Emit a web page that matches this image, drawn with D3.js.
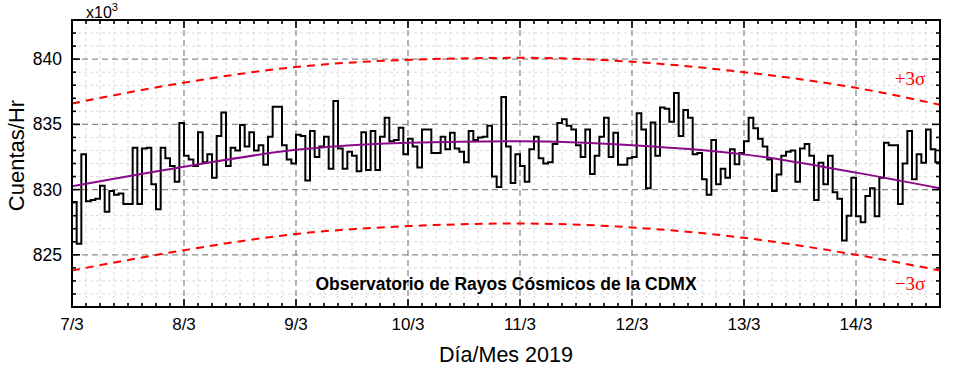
<!DOCTYPE html>
<html>
<head>
<meta charset="utf-8">
<script src="https://cdn.jsdelivr.net/npm/d3@7"></script>
<style>
  body { margin: 0; background: #fff; }
  svg { display: block; font-family: "Liberation Sans", Arial, sans-serif; }
</style>
</head>
<body>
<div id="chart"></div>
<script>
// hourly counts (x10^3), one array per day starting at 00:00
const day7  = [829.05, 825.85, 832.7, 829.1, 829.2, 829.3, 830.3, 828.3, 829.9, 829.6, 829.7, 828.9,
               828.9, 833.2, 828.9, 833.15, 833.2, 830.4, 828.5, 833.2, 832.4, 831.8, 830.6, 835.1];
const day8  = [832.6, 832.3, 831.8, 834.4, 832.1, 832.7, 830.9, 834.1, 835.9, 831.8, 833.2, 833.0,
               834.95, 833.3, 834.4, 833.0, 833.4, 831.9, 834.05, 836.35, 836.35, 833.4, 832.3, 832.0];
const day9  = [834.2, 834.1, 830.7, 834.5, 832.5, 833.3, 834.05, 831.6, 836.8, 833.15, 831.6, 832.9,
               832.6, 831.4, 834.4, 831.5, 834.5, 831.5, 834.05, 835.5, 833.7, 833.8, 834.75, 832.7];
const day10 = [833.9, 833.3, 831.7, 834.6, 834.6, 832.8, 832.8, 834.05, 833.1, 834.35, 833.15, 832.9,
               832.1, 834.5, 833.8, 834.0, 834.05, 834.9, 831.0, 830.2, 837.1, 833.3, 830.5, 832.7];
const day11 = [831.8, 830.6, 833.1, 834.05, 832.4, 832.0, 832.1, 833.5, 835.1, 835.4, 834.9, 834.6,
               833.4, 832.5, 834.6, 831.2, 832.6, 834.05, 835.5, 832.5, 834.35, 831.9, 831.9, 832.4];
const day12 = [832.5, 835.85, 834.6, 830.1, 835.15, 832.6, 836.3, 836.2, 835.2, 837.4, 834.1, 836.1,
               835.5, 832.7, 832.8, 830.8, 829.6, 833.8, 830.4, 831.6, 830.9, 833.1, 831.95, 832.8];
const day13 = [833.7, 835.5, 834.7, 833.9, 833.3, 832.3, 829.9, 831.15, 832.6, 832.9, 833.0, 830.6,
               833.15, 833.5, 832.6, 829.2, 832.05, 830.4, 832.6, 829.8, 829.3, 826.1, 828.0, 830.9];
const day14 = [827.95, 827.5, 829.5, 830.1, 827.95, 830.9, 833.6, 833.4, 833.4, 828.9, 832.0, 834.5,
               830.8, 832.7, 832.05, 834.6, 833.1, 832.1];

// fitted daily trend and +/-3 sigma limits, read at each day mark
const trendDays = [7, 8, 9, 10, 11, 12, 13, 14, 14.75];
const trendFit  = [830.25, 831.75, 833.05, 833.6, 833.7, 833.4, 832.7, 831.3, 830.1];
const upper3s   = [836.6, 838.2, 839.4, 839.95, 840.1, 839.8, 839.0, 837.8, 836.5];
const lower3s   = [823.8, 825.35, 826.6, 827.2, 827.4, 827.1, 826.3, 825.0, 823.8];

const xTicks = [7, 8, 9, 10, 11, 12, 13, 14];
const xTickLabels = ["7/3", "8/3", "9/3", "10/3", "11/3", "12/3", "13/3", "14/3"];
const yTicks = [825, 830, 835, 840];

const W = 957, H = 372;
const m = { left: 72, right: 17, top: 20, bottom: 65 };
const pw = W - m.left - m.right, ph = H - m.top - m.bottom;

const x = d3.scaleLinear().domain([7, 14.75]).range([0, pw]);
const y = d3.scaleLinear().domain([821, 843]).range([ph, 0]);

const svg = d3.select("#chart").append("svg")
  .attr("width", W).attr("height", H);

svg.append("defs").append("clipPath").attr("id", "clip")
  .append("rect").attr("width", pw).attr("height", ph);

const g = svg.append("g").attr("transform", `translate(${m.left},${m.top})`);

// minor grid
const xMinor = d3.range(7, 14.75 + 1e-9, 1 / 8);
const yMinor = d3.range(822, 843.5, 1);
g.append("g").selectAll("line").data(xMinor.filter(d => !xTicks.includes(d))).join("line")
  .attr("x1", d => x(d)).attr("x2", d => x(d)).attr("y1", 0).attr("y2", ph)
  .attr("stroke", "#dadada").attr("stroke-dasharray", "3,3");
g.append("g").selectAll("line").data(yMinor.filter(d => !yTicks.includes(d))).join("line")
  .attr("y1", d => y(d)).attr("y2", d => y(d)).attr("x1", 0).attr("x2", pw)
  .attr("stroke", "#dadada").attr("stroke-dasharray", "3,3");

// major grid
g.append("g").selectAll("line").data(xTicks.slice(1)).join("line")
  .attr("x1", d => x(d)).attr("x2", d => x(d)).attr("y1", 0).attr("y2", ph)
  .attr("stroke", "#8c8c8c").attr("stroke-width", 1.3).attr("stroke-dasharray", "6,4");
g.append("g").selectAll("line").data(yTicks).join("line")
  .attr("y1", d => y(d)).attr("y2", d => y(d)).attr("x1", 0).attr("x2", pw)
  .attr("stroke", "#8c8c8c").attr("stroke-width", 1.3).attr("stroke-dasharray", "6,4");

const plot = g.append("g").attr("clip-path", "url(#clip)");

// sigma limits
const smooth = d3.line().x(d => x(d[0])).y(d => y(d[1])).curve(d3.curveMonotoneX);
[upper3s, lower3s].forEach(arr => {
  plot.append("path")
    .datum(trendDays.map((d, i) => [d, arr[i]]))
    .attr("d", smooth)
    .attr("fill", "none").attr("stroke", "#ff0000").attr("stroke-width", 2)
    .attr("stroke-dasharray", "8,6");
});

// hourly steps
const counts = [].concat(day7, day8, day9, day10, day11, day12, day13, day14);
const pts = counts.map((v, i) => [7 + i / 24, v]);
pts.push([7 + counts.length / 24, counts[counts.length - 1]]);
plot.append("path").datum(pts)
  .attr("d", d3.line().x(d => x(d[0])).y(d => y(d[1])).curve(d3.curveStepAfter))
  .attr("fill", "none").attr("stroke", "#000").attr("stroke-width", 2)
  .attr("stroke-linejoin", "miter");

// fitted trend
plot.append("path")
  .datum(trendDays.map((d, i) => [d, trendFit[i]]))
  .attr("d", smooth)
  .attr("fill", "none").attr("stroke", "#8b0a8b").attr("stroke-width", 2);

// axes with inward ticks on all four sides
function ticks(sel, scale, vals, len, orient) {
  sel.selectAll(null).data(vals).join("line")
    .attr("stroke", "#000").attr("stroke-width", 1.6)
    .each(function (d) {
      const s = d3.select(this), p = scale(d);
      if (orient === "bottom") s.attr("x1", p).attr("x2", p).attr("y1", ph).attr("y2", ph - len);
      if (orient === "top") s.attr("x1", p).attr("x2", p).attr("y1", 0).attr("y2", len);
      if (orient === "left") s.attr("y1", p).attr("y2", p).attr("x1", 0).attr("x2", len);
      if (orient === "right") s.attr("y1", p).attr("y2", p).attr("x1", pw).attr("x2", pw - len);
    });
}
const tk = g.append("g");
["bottom", "top"].forEach(o => {
  ticks(tk, x, xMinor.filter(d => !xTicks.includes(d)), 4, o);
  ticks(tk, x, xTicks, 8, o);
});
["left", "right"].forEach(o => {
  ticks(tk, y, yMinor.filter(d => !yTicks.includes(d)), 4, o);
  ticks(tk, y, yTicks, 8, o);
});

g.append("rect").attr("width", pw).attr("height", ph)
  .attr("fill", "none").attr("stroke", "#000").attr("stroke-width", 2);

// tick labels
g.append("g").selectAll("text").data(xTicks).join("text")
  .attr("x", d => x(d)).attr("y", ph + 23)
  .attr("text-anchor", "middle").attr("font-size", 17)
  .text((d, i) => xTickLabels[i]);
g.append("g").selectAll("text").data(yTicks).join("text")
  .attr("x", -10).attr("y", d => y(d)).attr("dy", "0.35em")
  .attr("text-anchor", "end").attr("font-size", 17.5)
  .text(d => d);

// multiplier
const mult = svg.append("text").attr("x", 86).attr("y", 18).attr("font-size", 16);
mult.append("tspan").text("x10");
mult.append("tspan").attr("font-size", 11).attr("dy", -7).text("3");

// axis titles
svg.append("text")
  .attr("transform", `translate(24,${m.top + ph / 2 - 8}) rotate(-90)`)
  .attr("text-anchor", "middle").attr("font-size", 22)
  .text("Cuentas/Hr");
svg.append("text")
  .attr("x", 506).attr("y", 362)
  .attr("text-anchor", "middle").attr("font-size", 21.5)
  .text("Día/Mes 2019");

// annotations
svg.append("text")
  .attr("x", 506).attr("y", 290)
  .attr("text-anchor", "middle").attr("font-size", 17.5).attr("font-weight", "bold")
  .text("Observatorio de Rayos Cósmicos de la CDMX");
svg.append("text")
  .attr("x", 910).attr("y", 85).attr("text-anchor", "middle")
  .attr("font-family", "Liberation Serif, Times New Roman, serif").attr("font-size", 19)
  .attr("fill", "#ff0000").text("+3σ");
svg.append("text")
  .attr("x", 910).attr("y", 290).attr("text-anchor", "middle")
  .attr("font-family", "Liberation Serif, Times New Roman, serif").attr("font-size", 19)
  .attr("fill", "#ff0000").text("−3σ");
</script>
</body>
</html>
